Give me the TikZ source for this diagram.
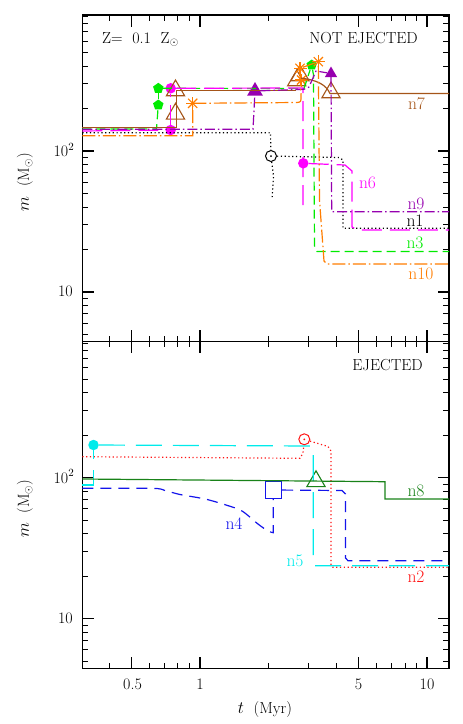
\documentclass[tikz,border=0pt]{standalone}
\usepackage{fontspec}
\usepackage{tikz}
\usetikzlibrary{shapes.geometric}

\definecolor{smgreen}{RGB}{0,235,0}
\definecolor{smdkgreen}{RGB}{25,130,25}
\definecolor{smbrown}{RGB}{165,85,25}
\definecolor{smorange}{RGB}{255,125,0}
\definecolor{smpurple}{RGB}{150,0,175}
\definecolor{smmagenta}{RGB}{255,0,255}
\definecolor{smcyan}{RGB}{0,235,235}
\definecolor{smblue}{RGB}{20,20,235}
\definecolor{smred}{RGB}{255,20,20}

\tikzset{
  axisbox/.style={line width=1.4pt},
  minortick/.style={line width=1pt},
  majortick/.style={line width=1.2pt},
  track/.style={line width=1.2pt},
  n1line/.style={track, black, dash pattern=on 1.2pt off 2.6pt},
  n2line/.style={track, smred, dash pattern=on 1.2pt off 2.6pt},
  n3line/.style={track, smgreen, dash pattern=on 9pt off 5pt},
  n4line/.style={track, smblue, dash pattern=on 11pt off 7pt},
  n5line/.style={track, smcyan, dash pattern=on 26pt off 11pt},
  n6line/.style={track, smmagenta, dash pattern=on 20pt off 8pt},
  n7line/.style={track, smbrown},
  n8line/.style={track, smdkgreen},
  n9line/.style={track, smpurple, dash pattern=on 10pt off 3pt on 1.5pt off 3pt},
  n10line/.style={track, smorange, dash pattern=on 13pt off 3pt on 1.5pt off 3pt},
  txt/.style={font=\fontsize{16}{19}\selectfont, inner sep=0pt},
  tag/.style={font=\fontsize{17.5}{20}\selectfont, inner sep=0pt},
  bigdot/.style={circle, fill, inner sep=0pt, minimum size=10.5pt},
  ringdot/.style={circle, draw, line width=1pt, inner sep=0pt, minimum size=11pt},
  opentri/.style={regular polygon, regular polygon sides=3, draw, line width=1.1pt,
                  inner sep=0pt, minimum size=21pt},
  filltri/.style={regular polygon, regular polygon sides=3, fill=smpurple, inner sep=0pt},
  pentmark/.style={regular polygon, regular polygon sides=5, fill=smgreen, inner sep=0pt,
                   minimum size=11pt},
  sqmark/.style={rectangle, draw, line width=1.1pt, inner sep=0pt, minimum size=16.5pt},
  pics/asterisk/.style={code={
    \foreach \a in {0,45,90,135}{\draw[smorange, line width=1.1pt] (\a:6.5) -- (\a+180:6.5);}
  }},
}

\begin{document}
\begin{tikzpicture}[x=1pt,y=-1pt]
\useasboundingbox (0,0) rectangle (463,724);

% frames, ticks and axis labels of both panels
\foreach \off/\p in {0/top,326.7/bot}{
  \begin{scope}[yshift=-\off pt]
    \draw[axisbox] (82.3,15) rectangle (449,341.7);
    \foreach \t in {0.4,0.6,0.7,0.8,0.9,2,3,4,6,7,8,9}{
      \draw[minortick] ({200+227*log10(\t)},15) -- ++(0,5.7);
      \draw[minortick] ({200+227*log10(\t)},341.7) -- ++(0,-5.7);
    }
    \foreach \t in {0.5,1,5,10}{
      \draw[majortick] ({200+227*log10(\t)},15) -- ++(0,11.5);
      \draw[majortick] ({200+227*log10(\t)},341.7) -- ++(0,-11.5);
    }
    \foreach \m in {5,6,7,8,9,20,30,40,50,60,70,80,90,200,300,400,500,600,700,800,900}{
      \draw[minortick] (82.3,{433-141*log10(\m)}) -- ++(5.8,0);
      \draw[minortick] (449,{433-141*log10(\m)}) -- ++(-5.8,0);
    }
    \foreach \m in {10,100}{
      \draw[majortick] (82.3,{433-141*log10(\m)}) -- ++(11.5,0);
      \draw[majortick] (449,{433-141*log10(\m)}) -- ++(-11.5,0);
    }
    \node[txt, anchor=east] (hi\p) at (74.5,150) {10$^2$};
    \node[txt, anchor=east] (lo\p) at (73,291.5) {10};
    \node[txt, rotate=90] (ylab\p) at (25,182) {$m$\ \ (M$_\odot$)};
  \end{scope}
}

% x axis labels
\node[txt] (xa) at (132.5,684) {0.5};
\node[txt] (xb) at (200,684) {1};
\node[txt] (xc) at (358.5,684) {5};
\node[txt] (xd) at (427,684) {10};
\node[txt] (xlab) at (265,709) {$t$\ \ (Myr)};

% panel titles
\node[txt, anchor=base west] (metal) at (102,43.3) {Z=\ \ 0.1\ \ Z$_\odot$};
\node[txt, anchor=base east] (notej) at (418,43.3) {NOT EJECTED};
\node[txt, anchor=base east] (ej) at (423,370) {EJECTED};

% markers, upper panel
\node[pentmark] (pA) at (158.3,88.3) {};
\node[pentmark] (pB) at (158.3,105) {};
\node[pentmark] (pC) at (311.7,65) {};
\node[bigdot, smmagenta] (mA) at (170.7,88.3) {};
\node[bigdot, smmagenta] (mB) at (170.7,130) {};
\node[bigdot, smmagenta] (mC) at (303.3,163.3) {};
\node[opentri, smbrown] (tA) at (175.5,90.5) {};
\node[opentri, smbrown] (tB) at (175.5,113.8) {};
\node[opentri, smbrown] (tC) at (296.7,80.5) {};
\node[opentri, smbrown] (tD) at (300,75.5) {};
\node[opentri, smbrown] (tE) at (331,92.5) {};
\node[filltri, minimum size=18pt] (vA) at (255,91) {};
\node[filltri, minimum size=14pt] (vB) at (331,73.5) {};
\node[ringdot] (cA) at (271,156) {};
\fill (cA.center) circle (1);
\coordinate (sA) at (192.7,103.3);
\coordinate (sB) at (300,68.3);
\coordinate (sC) at (301.5,80);
\coordinate (sD) at (318.3,61.7);
\foreach \s in {sA,sB,sC,sD}{\pic at (\s) {asterisk};}

% tracks, upper panel
\draw[n1line] (82.3,132.7) -- (270.5,132.7) -- (cA);
\draw[n1line] (cA) -- (273.5,176) -- (272,199);
\draw[n1line] (cA) -- (339,157.5) -- (343,160) -- (343,228.3) -- (449,228.3);

\draw[n3line] (82.3,129) -- (156.5,129) -- (pB);
\draw[n3line] (pB) -- (pA);
\draw[n3line] (pA) -- (304,88.5) -- (pC);
\draw[n3line] (pC) -- (313.5,75) -- (314.5,246) -- (317,251.5) -- (449,251.5);

\draw[n6line] (82.3,131) -- (mB);
\draw[n6line] (mB) -- (mA);
\draw[n6line] (mA) -- (303,88) -- (303,208);
\draw[n6line] (mC) -- (345,165) -- (352,171) -- (352,227) -- (358,230) -- (449,230);

\draw[n7line] (82.3,127.7) -- (176.5,127.7) -- (176.5,90.7) -- (296,90.7);
\draw[n7line] (300,78) .. controls (318,80) and (326,85) .. (330,93.5) -- (449,93.5);

\draw[n9line] (82.3,129.3) -- (253,129.3) -- (vA);
\draw[n9line] (vA) -- (304,89.3) -- (309,87) -- (316,71) -- (vB);
\draw[n9line] (vB) -- (331.7,211.7) -- (449,211.7);

\draw[n10line] (82.3,135.7) -- (192.7,135.7) -- (sA) -- (297,102.5)
  .. controls (301,102) .. (301,96) -- (sB) -- (sD) -- (319.5,200)
  -- (324,261) -- (327,264) -- (449,264);

% labels, upper panel
\node[tag, smbrown] (l7) at (416.5,104) {n7};
\node[tag, smmagenta] (l6) at (367.5,182.5) {n6};
\node[tag, smpurple] (l9) at (416,204) {n9};
\node[tag] (l1) at (415,221) {n1};
\node[tag, smgreen] (l3) at (415,243) {n3};
\node[tag, smorange] (l10) at (421,273.5) {n10};

% markers, lower panel
\node[bigdot, smcyan] (qA) at (93.5,445) {};
\node[ringdot, smred] (rA) at (304.3,439.3) {};
\fill[smred] (rA.center) circle (1);
\node[sqmark, smblue] (bA) at (273.3,490) {};
\node[opentri, smdkgreen] (gA) at (316,481.3) {};

% tracks, lower panel
\draw[n2line] (82.3,456.7) -- (300,458.3) -- (303,453) -- (rA);
\draw[n2line] (rA) -- (312,441.7) -- (328,446.5) -- (331,451) -- (331,565)
  -- (333,567.3) -- (449,567.3);

\draw[n4line] plot[smooth, tension=0.5] coordinates {(82.3,488.3) (152,488.3)
  (165,490.5) (180,494.5) (205,499) (226,505) (242,511) (258,524) (268,531)
  (273.3,532.7)} -- (bA);
\draw[n4line] (bA) -- (342,490.5) -- (345.5,494) -- (345.5,558) -- (348,560.7)
  -- (449,560.7);

\draw[n5line] (82.3,485) -- (93.5,485) -- (qA);
\draw[n5line] (qA) -- (311.7,446) -- (313.3,452) -- (313.3,561) -- (315,565.7)
  -- (449,565.7);

\draw[n8line] (82.3,479) -- (385,481.7) -- (385,499) -- (449,499);

% labels, lower panel
\node[tag, smdkgreen] (l8) at (416,491) {n8};
\node[tag, smblue] (l4) at (234,524) {n4};
\node[tag, smcyan] (l5) at (295,561) {n5};
\node[tag, smred] (l2) at (416,577) {n2};
\end{tikzpicture}
\end{document}
